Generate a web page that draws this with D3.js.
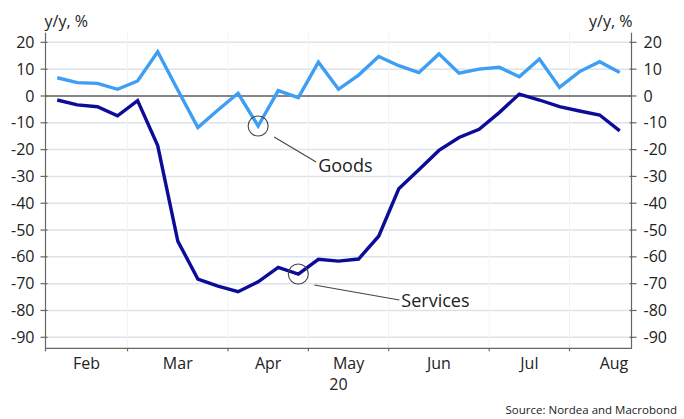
<!DOCTYPE html>
<html>
<head>
<meta charset="utf-8">
<script src="https://cdn.jsdelivr.net/npm/d3@7"></script>
<style>
  html, body { margin: 0; padding: 0; background: #fff; }
  svg text { font-family: "Open Sans", "Noto Sans", sans-serif; fill: #222; }
</style>
</head>
<body>
<svg id="chart" width="684" height="419"></svg>
<script>
// Weekly observations, 2020 (week starting dates)
const weeks = [
  "2020-02-03","2020-02-10","2020-02-17","2020-02-24",
  "2020-03-02","2020-03-09","2020-03-16","2020-03-23","2020-03-30",
  "2020-04-06","2020-04-13","2020-04-20","2020-04-27",
  "2020-05-04","2020-05-11","2020-05-18","2020-05-25",
  "2020-06-01","2020-06-08","2020-06-15","2020-06-22","2020-06-29",
  "2020-07-06","2020-07-13","2020-07-20","2020-07-27",
  "2020-08-03","2020-08-10","2020-08-17"
];
// Card spending, y/y %
const goods = [6.8, 5.0, 4.7, 2.5, 5.6, 16.5, 2.2, -11.8, -5.2, 1.0, -11.2, 2.0, -0.6, 12.6, 2.5,
               7.8, 14.7, 11.3, 8.7, 15.7, 8.5, 10.0, 10.7, 7.2, 13.8, 3.2, 9.1, 12.8, 8.8];
const services = [-1.5, -3.3, -4.0, -7.4, -1.7, -18.5, -54.1, -68.3, -70.9, -73.0, -69.3, -63.9, -66.4, -60.9, -61.6,
                  -60.8, -52.3, -34.6, -27.5, -20.3, -15.5, -12.4, -6.2, 0.7, -1.5, -4.0, -5.6, -7.1, -13.0];
const yTicks = [20, 10, 0, -10, -20, -30, -40, -50, -60, -70, -80, -90];
const monthNames = ["Jan","Feb","Mar","Apr","May","Jun","Jul","Aug","Sep","Oct","Nov","Dec"];
const yearLabel = "20";
const unitLabel = "y/y, %";
const sourceLabel = "Source: Nordea and Macrobond";
const annotations = [
  { series: "goods", index: 10, label: "Goods" },
  { series: "services", index: 12, label: "Services" }
];

const svg = d3.select("#chart");
const plot = { left: 45.5, right: 631.5, top: 32.7, bottom: 348.3 };

const parse = d3.timeParse("%Y-%m-%d");
const dates = weeks.map(parse);
const idx = d3.range(weeks.length);

const x = d3.scalePoint().domain(idx).range([plot.left, plot.right]).padding(0.585);
const y = d3.scaleLinear().domain([-94.1, 23.6]).range([plot.bottom, plot.top]);
const step = x.step();

// month groups of week indices
const months = [];
idx.forEach(i => {
  const m = dates[i].getMonth();
  const last = months[months.length - 1];
  if (!last || last.m !== m) months.push({ m, first: i, last: i });
  else last.last = i;
});
// boundaries between months sit halfway between adjacent weeks
months.forEach((g, k) => {
  g.start = k === 0 ? plot.left : (x(g.first - 1) + x(g.first)) / 2;
});
months.forEach((g, k) => {
  if (k < months.length - 1) g.end = months[k + 1].start;
  else {
    const daysInMonth = new Date(2020, g.m + 1, 0).getDate();
    g.end = g.start + daysInMonth / 7 * step;
  }
  g.mid = (g.start + g.end) / 2;
});

// horizontal gridlines
svg.append("g").selectAll("line").data(yTicks.filter(d => d !== 0)).join("line")
  .attr("x1", plot.left).attr("x2", plot.right)
  .attr("y1", d => y(d)).attr("y2", d => y(d))
  .attr("stroke", "#dbe3eb").attr("stroke-width", 1.5);

// faint vertical month gridlines
svg.append("g").selectAll("line").data(months.slice(1)).join("line")
  .attr("x1", d => d.start).attr("x2", d => d.start)
  .attr("y1", plot.top).attr("y2", plot.bottom)
  .attr("stroke", "#eef2f6").attr("stroke-width", 1);

// zero line
svg.append("line")
  .attr("x1", plot.left).attr("x2", plot.right)
  .attr("y1", y(0)).attr("y2", y(0))
  .attr("stroke", "#111").attr("stroke-width", 1.2);

// frame: left, right, bottom
const axisColor = "#666";
svg.append("path")
  .attr("d", `M${plot.left},${plot.top}V${plot.bottom}H${plot.right}V${plot.top}`)
  .attr("fill", "none").attr("stroke", axisColor).attr("stroke-width", 1.2);

// y ticks, both sides
const yAxisG = svg.append("g");
yAxisG.selectAll("line.l").data(yTicks).join("line").attr("class", "l")
  .attr("x1", plot.left - 5).attr("x2", plot.left + 2)
  .attr("y1", d => y(d)).attr("y2", d => y(d))
  .attr("stroke", axisColor).attr("stroke-width", 1.2);
yAxisG.selectAll("line.r").data(yTicks).join("line").attr("class", "r")
  .attr("x1", plot.right - 2).attr("x2", plot.right + 5)
  .attr("y1", d => y(d)).attr("y2", d => y(d))
  .attr("stroke", axisColor).attr("stroke-width", 1.2);
yAxisG.selectAll("text.l").data(yTicks).join("text").attr("class", "l")
  .attr("x", plot.left - 11).attr("y", d => y(d)).attr("dy", "0.35em")
  .attr("text-anchor", "end").style("font-size", "16px").text(d => d);
yAxisG.selectAll("text.r").data(yTicks).join("text").attr("class", "r")
  .attr("x", plot.right + 12).attr("y", d => y(d)).attr("dy", "0.35em")
  .attr("text-anchor", "start").style("font-size", "16px").text(d => d);

// unit labels
svg.append("text").attr("x", plot.left - 1).attr("y", 27)
  .style("font-size", "16px").text(unitLabel);
svg.append("text").attr("x", plot.right + 1).attr("y", 27)
  .attr("text-anchor", "end").style("font-size", "16px").text(unitLabel);

// x ticks at month boundaries
svg.append("g").selectAll("line").data(months).join("line")
  .attr("x1", d => d.start).attr("x2", d => d.start)
  .attr("y1", plot.bottom).attr("y2", plot.bottom + 3)
  .attr("stroke", axisColor).attr("stroke-width", 1.2);
svg.append("g").selectAll("text").data(months).join("text")
  .attr("x", d => d.mid).attr("y", 369)
  .attr("text-anchor", "middle").style("font-size", "16px")
  .text(d => monthNames[d.m]);
svg.append("text").attr("x", (plot.left + plot.right) / 2).attr("y", 390)
  .attr("text-anchor", "middle").style("font-size", "16px").text(yearLabel);

// series lines
const line = d3.line().x((d, i) => x(i)).y(d => y(d));
svg.append("path").datum(goods).attr("d", line)
  .attr("fill", "none").attr("stroke", "#3d9ef3").attr("stroke-width", 3.4)
  .attr("stroke-linejoin", "miter");
svg.append("path").datum(services).attr("d", line)
  .attr("fill", "none").attr("stroke", "#0c0c98").attr("stroke-width", 3.4)
  .attr("stroke-linejoin", "miter");

// annotations: circle on the point, leader line, label
const seriesMap = { goods, services };
const leader = { goods: [58, 36, 4], services: [101, 26, 1] };
const annG = svg.append("g");
annotations.forEach(a => {
  const cx = x(a.index), cy = y(seriesMap[a.series][a.index]);
  const [dx, dy, textShift] = leader[a.series];
  annG.append("circle").attr("cx", cx).attr("cy", cy).attr("r", 10)
    .attr("fill", "none").attr("stroke", "#444").attr("stroke-width", 1.1);
  const lx1 = cx + 16, ly1 = cy + 11;
  const lx2 = cx + dx, ly2 = cy + dy;
  annG.append("line").attr("x1", lx1).attr("y1", ly1).attr("x2", lx2).attr("y2", ly2)
    .attr("stroke", "#444").attr("stroke-width", 1.1);
  annG.append("text").attr("x", lx2 + 2).attr("y", ly2 + textShift).attr("dy", "0.35em")
    .style("font-size", "18px").text(a.label);
});

// source
svg.append("text").attr("x", 677).attr("y", 414).attr("text-anchor", "end")
  .style("font-size", "11.5px").text(sourceLabel);
</script>
</body>
</html>
